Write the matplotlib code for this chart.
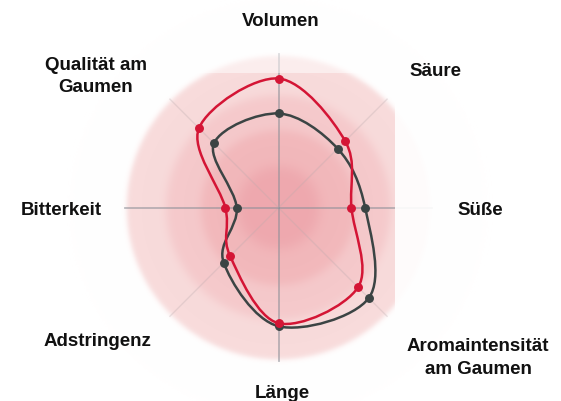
import numpy as np
import matplotlib
matplotlib.use("Agg")
import matplotlib.pyplot as plt
from matplotlib.path import Path
from matplotlib.patches import PathPatch, Rectangle

# ---- data ----
categories = ["Volumen", "Säure", "Süße", "Aromaintensität\nam Gaumen", "Länge",
              "Adstringenz", "Bitterkeit", "Qualität am\nGaumen"]
red_values = [8.5, 6.2, 4.8, 7.4, 7.6, 4.5, 3.5, 7.4]
dark_values = [6.2, 5.5, 5.7, 8.4, 7.8, 5.1, 2.75, 6.0]
r_max = 10.0

# ---- layout ----
W, H, DPI = 561, 401, 100
px_per_unit = 15.2
cx_px, cy_px = 278.5, 207.7

fig = plt.figure(figsize=(W / DPI, H / DPI), dpi=DPI)
ax = fig.add_axes([0, 0, 1, 1])
x0, x1 = -cx_px / px_per_unit, (W - cx_px) / px_per_unit
y0, y1 = -(H - cy_px) / px_per_unit, cy_px / px_per_unit
ax.set_xlim(x0, x1)
ax.set_ylim(y0, y1)
ax.axis("off")

n = len(categories)
angles = np.pi / 2 - np.arange(n) * 2 * np.pi / n

# ---- radial background rings ----
gx = np.linspace(x0, x1, 600)
gy = np.linspace(y1, y0, 430)
XX, YY = np.meshgrid(gx, gy)
RR = np.hypot(XX, YY)

def step(r, edge, width):
    return 1 / (1 + np.exp((r - edge) / width))

c_outer = np.array([248, 219, 219]) / 255
c_mid = np.array([245, 201, 203]) / 255
c_in = np.array([242, 184, 187]) / 255
c_core = np.array([238, 168, 174]) / 255
img = np.ones(RR.shape + (3,))
for col, edge, wdt in [(c_outer, 10.0, 0.1), (c_mid, 7.4, 0.18),
                       (c_in, 5.1, 0.18), (c_core, 2.7, 0.25)]:
    a = step(RR, edge, wdt)[..., None]
    img = img * (1 - a) + col * a
ax.imshow(img, extent=(x0, x1, y0, y1), origin="upper", zorder=0,
          interpolation="bilinear", aspect="auto")

# ---- spokes ----
for i, ang in enumerate(angles):
    main = i % 2 == 0
    ax.plot([0, 10.1 * np.cos(ang)], [0, 10.1 * np.sin(ang)],
            color="#8d9098" if main else "#b9a9ad",
            lw=1.3 if main else 1.0, alpha=0.6 if main else 0.3, zorder=1)

# ---- scan-artifact overlays ----
edge_x = (395 - cx_px) / px_per_unit
edge_y = (cy_px - 73) / px_per_unit
ax.add_patch(Rectangle((edge_x, y0), x1 - edge_x, edge_y - y0,
                       facecolor="white", alpha=0.9, edgecolor="none", zorder=2))
ax.add_patch(Rectangle((x0, edge_y), x1 - x0, y1 - edge_y,
                       facecolor="white", alpha=0.5, edgecolor="none", zorder=2))

# ---- smooth closed curves ----
def smooth_path(vals):
    pts = np.column_stack([np.array(vals) * np.cos(angles),
                           np.array(vals) * np.sin(angles)])
    m = len(pts)
    verts = [pts[0]]
    codes = [Path.MOVETO]
    for i in range(m):
        p0, p1, p2, p3 = pts[i - 1], pts[i], pts[(i + 1) % m], pts[(i + 2) % m]
        c1 = p1 + (p2 - p0) / 6
        c2 = p2 - (p3 - p1) / 6
        verts += [c1, c2, p2]
        codes += [Path.CURVE4] * 3
    return Path(verts, codes), pts

for vals, col in [(dark_values, "#3b4444"), (red_values, "#d41535")]:
    path, pts = smooth_path(vals)
    ax.add_patch(PathPatch(path, facecolor="none", edgecolor=col, lw=1.8, zorder=4))
    ax.plot(pts[:, 0], pts[:, 1], "o", color=col, ms=5.4, zorder=5, mec=col)

# ---- labels ----
def px(xp, yp):
    return (xp - cx_px) / px_per_unit, (cy_px - yp) / px_per_unit

label_pos = [(281, 22), (435, 72), (480, 210), (478, 358), (282, 393),
             (97, 342), (61, 210), (96, 76.5)]
for lab, (xp, yp) in zip(categories, label_pos):
    x, y = px(xp, yp)
    ax.text(x, y, lab, ha="center", va="center", fontsize=13.5, fontweight="bold",
            family="Liberation Sans", color="#111111", linespacing=1.45, zorder=6)

fig.savefig("out.png", dpi=DPI)
